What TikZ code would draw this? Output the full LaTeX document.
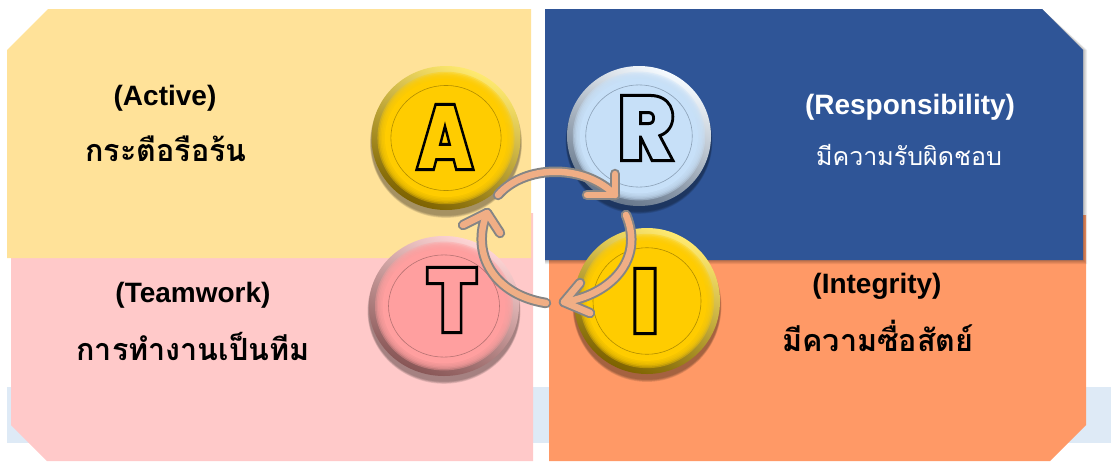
\documentclass[tikz,border=0pt]{standalone}
\usepackage{fontspec}
\setmainfont{Liberation Sans}
\newfontfamily\thaifont[Script=Thai]{Loma}
\newfontfamily\chipfont{Poppins Black}
\definecolor{paneA}{HTML}{FFE299}
\definecolor{paneR}{HTML}{2F5597}
\definecolor{paneT}{HTML}{FFC9C9}
\definecolor{paneI}{HTML}{FF9966}
\definecolor{bandblue}{HTML}{DEEAF6}
\definecolor{goldface}{HTML}{FFCC00}
\definecolor{goldlight}{HTML}{FFEA70}
\definecolor{golddark}{HTML}{7D6200}
\definecolor{blueface}{HTML}{C7E0F8}
\definecolor{bluelight}{HTML}{F6FBFF}
\definecolor{bluedark}{HTML}{64758A}
\definecolor{pinkface}{HTML}{FF9F9F}
\definecolor{pinklight}{HTML}{FFD6D6}
\definecolor{pinkdark}{HTML}{875555}
\definecolor{turnrim}{HTML}{858585}
\definecolor{turncore}{HTML}{F0AE85}
\tikzset{
  engtext/.style={font=\fontsize{28}{30}\selectfont\bfseries, inner sep=0pt},
  thaitext/.style={font=\fontsize{30.5}{33}\thaifont\bfseries, inner sep=0pt},
  chipletter/.style={font=\fontsize{92}{92}\chipfont, inner sep=0pt},
  rimline/.style={draw=turnrim, line width=10.5pt, line cap=round, line join=round},
  coreline/.style={draw=turncore, line width=6.5pt, line cap=round, line join=round},
}
% one round button: centre, radii, colour stem
\newcommand{\chip}[5]{
  \foreach \s in {1.04,1.03,1.02,1.01}
    \fill[black, opacity=0.1] (#1,#2+5) ellipse [x radius=(1+\s)/2*#3pt, y radius=\s*#4pt];
  \shade[top color=#5light, middle color=#5face, bottom color=#5dark, shading angle=-25]
    (#1,#2) ellipse [x radius=#3pt, y radius=#4pt];
  \foreach \s in {0.92,0.90,0.88,0.86,0.84}
    \fill[#5face, opacity=0.4] (#1,#2) ellipse [x radius=\s*#3pt, y radius=\s*#4pt];
  \fill[#5face] (#1,#2) ellipse [x radius=0.82*#3pt, y radius=0.82*#4pt];
  \draw[#5dark!60!#5face, line width=0.6pt] (#1,#2) ellipse [x radius=0.74*#3pt, y radius=0.73*#4pt];
}
\newcommand{\outlined}[1]{\special{pdf:code q 2 Tr 3 w 0 0 0 RG}#1\special{pdf:code Q}}
\begin{document}
\begin{tikzpicture}[x=1pt,y=-1pt]
  \useasboundingbox (0,0) rectangle (1111,461);
  \clip (0,0) rectangle (1111,461);

  \fill[bandblue] (7,387) rectangle (1111,443);

  % panes
  \fill[paneT] (11,213) -- (533,213) -- (533,461) -- (47,461) -- (11,425) -- cycle;
  \fill[paneI] (549,215) -- (1086,215) -- (1086,425) -- (1050,461) -- (549,461) -- cycle;
  \fill[paneA] (48,9) -- (531,9) -- (531,258) -- (7,258) -- (7,50) -- cycle;
  \foreach \s in {4,3,2,1}
    \fill[black, opacity=0.07] (545,9) -- (1042,9) -- (1083+\s,50) -- (1083+\s,260+\s) -- (545,260+\s) -- cycle;
  \fill[paneR] (545,9) -- (1042,9) -- (1083,50) -- (1083,260) -- (545,260) -- cycle;

  % buttons
  \chip{446}{138}{74.5}{72}{gold}
  \chip{639}{136}{72}{70}{blue}
  \chip{444}{306}{75}{70}{pink}
  \chip{647}{301}{73}{73}{gold}

  \node[chipletter, text=goldface] (letterA) at (445,137) {\scalebox{0.8}[1]{\outlined{A}}};
  \node[chipletter, text=blueface] (letterR) at (646,128) {\scalebox{0.93}[1]{\outlined{R}}};
  \node[chipletter, text=pinkface] (letterT) at (452,300) {\scalebox{0.9}[1]{\outlined{T}}};
  \node[chipletter, text=goldface] (letterI) at (645,301) {\outlined{I}};

  % labels
  \node[engtext] (engA) at (165,98) {(Active)};
  \node[thaitext] (thaiA) at (166,149) {กระตือรือร้น};
  \node[engtext, text=white] (engR) at (910,107) {(Responsibility)};
  \node[thaitext, text=white, font=\fontsize{25}{28}\thaifont] (thaiR) at (909,155) {มีความรับผิดชอบ};
  \node[engtext] (engT) at (193,295) {(Teamwork)};
  \node[thaitext] (thaiT) at (193,346) {การทำงานเป็นทีม};
  \node[engtext] (engI) at (877,286) {(Integrity)};
  \node[thaitext] (thaiI) at (878,336) {มีความซื่อสัตย์};

  % turning arrows
  \coordinate (startAR) at (498,195);
  \coordinate (tipAR) at (615,195);
  \coordinate (startRI) at (626,215);
  \coordinate (tipRI) at (564,302);
  \coordinate (startIT) at (546,303);
  \coordinate (tipIT) at (487,213);
  \foreach \st in {rimline,coreline} {
    \draw[\st] (startAR) .. controls (525,164) and (585,164) .. (tipAR);
    \draw[\st] (615,174) -- (tipAR) -- (587,195);
    \draw[\st] (startRI) .. controls (645,260) and (610,295) .. (tipRI);
    \draw[\st] (580,283) -- (tipRI) -- (590,313);
    \draw[\st] (startIT) .. controls (495,295) and (470,255) .. (tipIT);
    \draw[\st] (463,225) -- (tipIT) -- (500,233);
  }
\end{tikzpicture}
\end{document}
